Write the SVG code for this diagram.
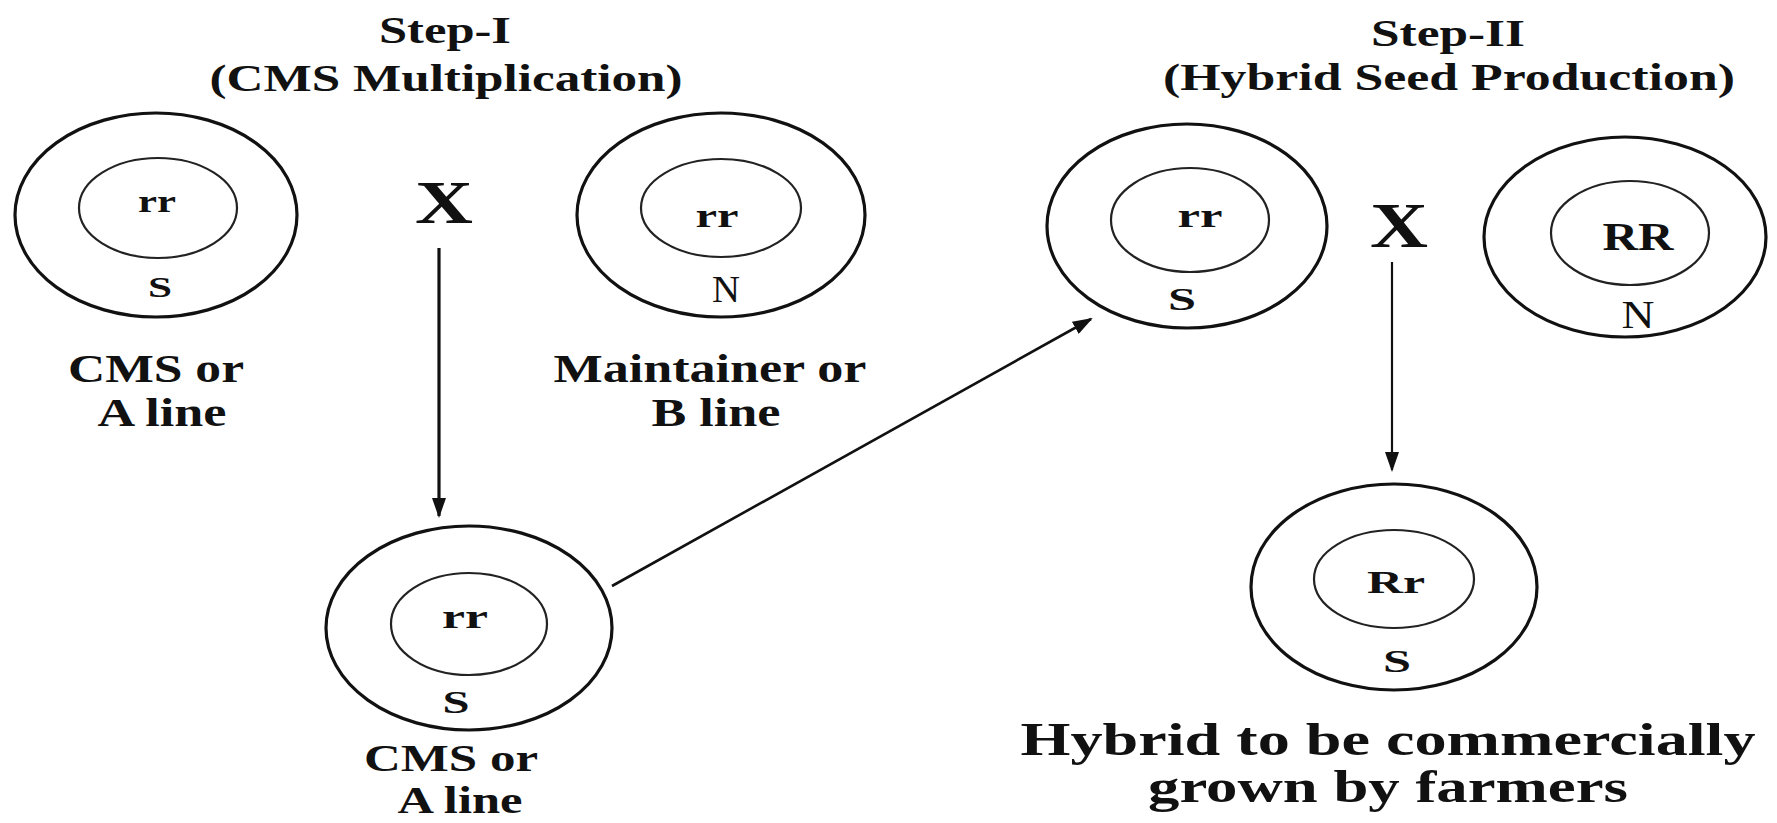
<svg xmlns="http://www.w3.org/2000/svg" width="1777" height="823" viewBox="0 0 1777 823">
<style>
text{font-family:"Liberation Serif","Times New Roman",serif;font-weight:bold;fill:#111;text-anchor:middle}
.outer{fill:none;stroke:#111;stroke-width:3.2}
.inner{fill:none;stroke:#222;stroke-width:2.2}
.conn{fill:none;stroke:#111}
.reg{font-weight:normal}
</style>
<defs>
<marker id="ah" viewBox="0 0 20 14" refX="18" refY="7" markerWidth="20" markerHeight="14" markerUnits="userSpaceOnUse" orient="auto">
<path d="M0,0 L20,7 L0,14 Z" fill="#111"/>
</marker>
</defs>
<rect width="1777" height="823" fill="#fff"/>
<g id="titles">
<text x="445" y="43" font-size="38" textLength="132" lengthAdjust="spacingAndGlyphs">Step-I</text>
<text x="446" y="91" font-size="38" textLength="473" lengthAdjust="spacingAndGlyphs">(CMS Multiplication)</text>
<text x="1448" y="46" font-size="38" textLength="154" lengthAdjust="spacingAndGlyphs">Step-II</text>
<text x="1449" y="90" font-size="38" textLength="572" lengthAdjust="spacingAndGlyphs">(Hybrid Seed Production)</text>
</g>
<g id="node-cms-a1">
<ellipse class="outer" cx="156" cy="215" rx="141" ry="102"/>
<ellipse class="inner" cx="158" cy="208" rx="79" ry="50"/>
<text x="157" y="212" font-size="32" textLength="38" lengthAdjust="spacingAndGlyphs">rr</text>
<text x="160" y="297" font-size="30" textLength="24" lengthAdjust="spacingAndGlyphs">S</text>
<text x="156" y="382" font-size="40" textLength="176" lengthAdjust="spacingAndGlyphs">CMS or</text>
<text x="162" y="426" font-size="40" textLength="129" lengthAdjust="spacingAndGlyphs">A line</text>
</g>
<g id="cross-1">
<text x="444" y="223" font-size="62" textLength="58" lengthAdjust="spacingAndGlyphs">X</text>
</g>
<g id="node-maintainer-b">
<ellipse class="outer" cx="721" cy="215" rx="144" ry="102"/>
<ellipse class="inner" cx="721" cy="208" rx="80" ry="49"/>
<text x="717" y="227" font-size="34" textLength="43" lengthAdjust="spacingAndGlyphs">rr</text>
<text class="reg" x="726" y="302" font-size="38" textLength="28" lengthAdjust="spacingAndGlyphs">N</text>
<text x="710" y="382" font-size="40" textLength="313" lengthAdjust="spacingAndGlyphs">Maintainer or</text>
<text x="716" y="426" font-size="40" textLength="129" lengthAdjust="spacingAndGlyphs">B line</text>
</g>
<g id="node-cms-a2">
<ellipse class="outer" cx="469" cy="628" rx="143" ry="102"/>
<ellipse class="inner" cx="469" cy="624" rx="78" ry="51"/>
<text x="465" y="628" font-size="34" textLength="46" lengthAdjust="spacingAndGlyphs">rr</text>
<text x="456" y="713" font-size="32" textLength="27" lengthAdjust="spacingAndGlyphs">S</text>
<text x="451" y="771" font-size="38" textLength="174" lengthAdjust="spacingAndGlyphs">CMS or</text>
<text x="460" y="813" font-size="38" textLength="125" lengthAdjust="spacingAndGlyphs">A line</text>
</g>
<g id="node-cms-s2">
<ellipse class="outer" cx="1187" cy="226" rx="140" ry="102"/>
<ellipse class="inner" cx="1190" cy="220" rx="79" ry="52"/>
<text x="1200" y="227" font-size="34" textLength="45" lengthAdjust="spacingAndGlyphs">rr</text>
<text x="1182" y="310" font-size="32" textLength="28" lengthAdjust="spacingAndGlyphs">S</text>
</g>
<g id="cross-2">
<text x="1399" y="247" font-size="64" textLength="58" lengthAdjust="spacingAndGlyphs">X</text>
</g>
<g id="node-restorer-r">
<ellipse class="outer" cx="1625" cy="237" rx="141" ry="100"/>
<ellipse class="inner" cx="1630" cy="233" rx="79" ry="52"/>
<text x="1638" y="250" font-size="40" textLength="71" lengthAdjust="spacingAndGlyphs">RR</text>
<text class="reg" x="1638" y="328" font-size="40" textLength="33" lengthAdjust="spacingAndGlyphs">N</text>
</g>
<g id="node-hybrid">
<ellipse class="outer" cx="1394" cy="587" rx="143" ry="103"/>
<ellipse class="inner" cx="1394" cy="579" rx="80" ry="49"/>
<text x="1396" y="593" font-size="32" textLength="58" lengthAdjust="spacingAndGlyphs">Rr</text>
<text x="1397" y="672" font-size="32" textLength="28" lengthAdjust="spacingAndGlyphs">S</text>
<text x="1388" y="755" font-size="46" textLength="735" lengthAdjust="spacingAndGlyphs">Hybrid to be commercially</text>
<text x="1388" y="802" font-size="46" textLength="480" lengthAdjust="spacingAndGlyphs">grown by farmers</text>
</g>
<g id="connectors">
<line class="conn" x1="439" y1="248" x2="439" y2="516" stroke-width="3.2" marker-end="url(#ah)"/>
<line class="conn" x1="612" y1="586" x2="1091" y2="319" stroke-width="2.6" marker-end="url(#ah)"/>
<line class="conn" x1="1392" y1="262" x2="1392" y2="470" stroke-width="2.2" marker-end="url(#ah)"/>
</g>
</svg>
